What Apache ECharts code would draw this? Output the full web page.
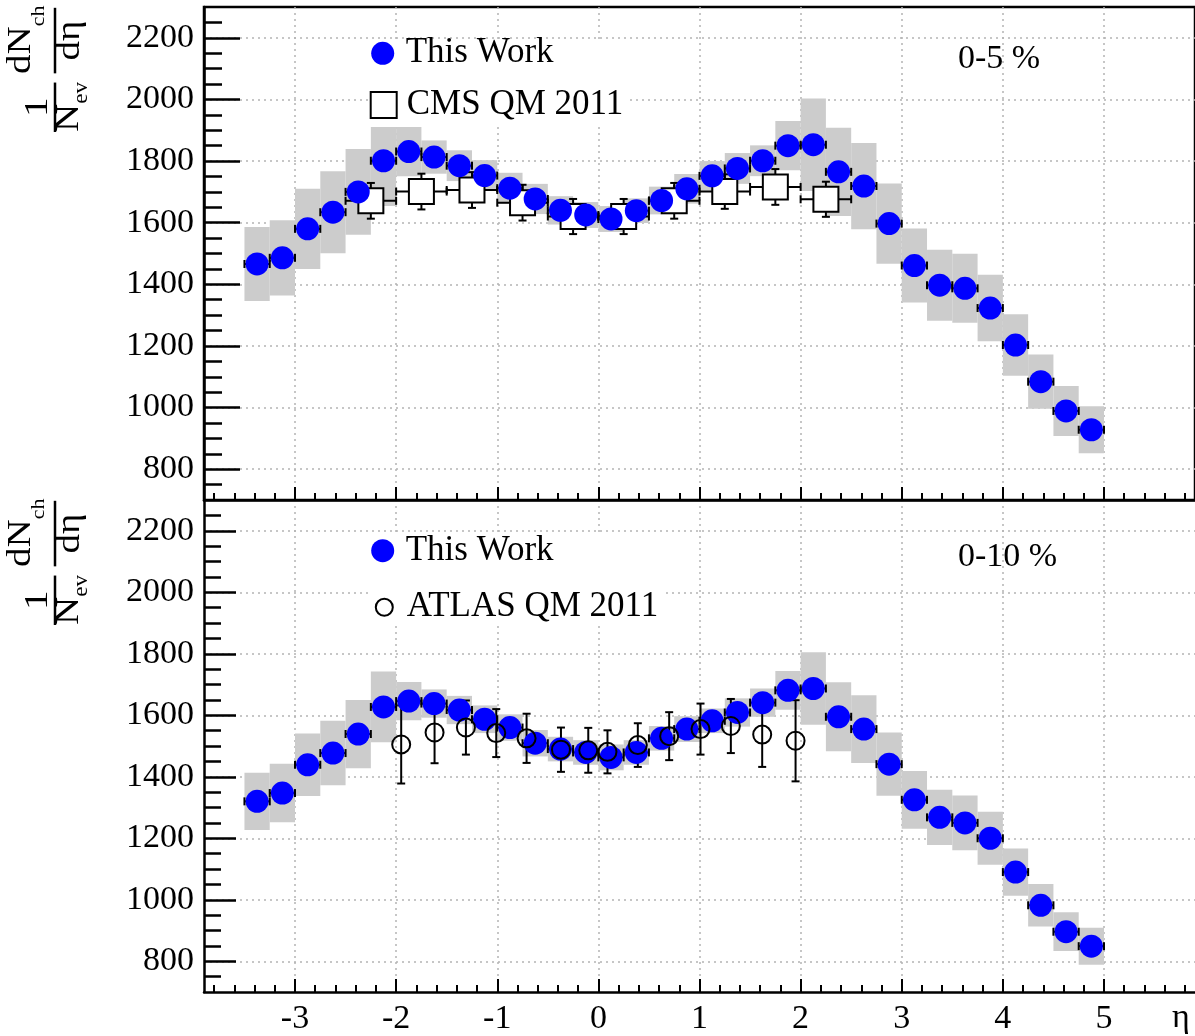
<!DOCTYPE html>
<html>
<head>
<meta charset="utf-8">
<script src="https://cdn.jsdelivr.net/npm/echarts@6/dist/echarts.min.js"></script>
<style>
html, body { margin: 0; padding: 0; background: #fff; }
#chart { width: 1195px; height: 1036px; }
</style>
</head>
<body>
<div id="chart"></div>
<script>
// eta bin centres (bin width 0.25)
const etaBins = [-3.375, -3.125, -2.875, -2.625, -2.375, -2.125, -1.875, -1.625, -1.375, -1.125,
    -0.875, -0.625, -0.375, -0.125, 0.125, 0.375, 0.625, 0.875, 1.125, 1.375,
    1.625, 1.875, 2.125, 2.375, 2.625, 2.875, 3.125, 3.375, 3.625, 3.875,
    4.125, 4.375, 4.625, 4.875];

// 0-5 %: this work, with systematic half-heights
const thisWork05 = [1466, 1486, 1580, 1634, 1700, 1801, 1831, 1813, 1785, 1753,
    1712, 1677, 1640, 1625, 1612, 1639, 1672, 1710, 1752, 1776,
    1801, 1850, 1853, 1765, 1719, 1597, 1461, 1397, 1387, 1323,
    1203, 1084, 989, 928];
const thisWork05Sys = [120, 122, 130, 133, 139, 147, 80, 54, 50, 50,
    50, 49, 46, 42, 42, 40, 45, 48, 48, 50,
    50, 80, 150, 143, 140, 130, 120, 115, 112, 108,
    100, 88, 81, 76];

// 0-5 %: CMS QM 2011
const cmsEta = [-2.25, -1.75, -1.25, -0.75, -0.25, 0.25, 0.75, 1.25, 1.75, 2.25];
const cms05 = [1671, 1701, 1706, 1665, 1620, 1620, 1671, 1701, 1716, 1676];
const cms05Err = [58, 58, 58, 58, 57, 57, 58, 56, 58, 57];

// 0-10 %: this work
const thisWork010 = [1320, 1347, 1439, 1477, 1539, 1627, 1646, 1638, 1617, 1587,
    1560, 1509, 1490, 1479, 1463, 1479, 1525, 1555, 1582, 1609,
    1641, 1681, 1687, 1595, 1555, 1441, 1325, 1268, 1250, 1200,
    1090, 982, 896, 849];
const thisWork010Sys = [93, 95, 102, 105, 111, 115, 62, 46, 46, 45,
    43, 43, 40, 40, 42, 40, 40, 42, 40, 46,
    46, 63, 118, 112, 110, 103, 94, 90, 89, 86,
    77, 69, 63, 60];

// 0-10 %: ATLAS QM 2011
const atlasEta = [-1.95, -1.62, -1.31, -1.01, -0.71, -0.37, -0.10, 0.09, 0.39, 0.70, 1.01, 1.31, 1.62, 1.95];
const atlas010 = [1505, 1544, 1560, 1542, 1525, 1488, 1486, 1481, 1503, 1532, 1555, 1565, 1537, 1517];
const atlas010Err = [127, 100, 88, 78, 80, 72, 73, 70, 71, 78, 83, 88, 105, 132];

// axis ticks
const etaTicks = [-3, -2, -1, 0, 1, 2, 3, 4, 5];
const yTicks = [800, 1000, 1200, 1400, 1600, 1800, 2000, 2200];

const binHalf = 0.125;
const cmsHalf = 0.25;

const etaMinor = [];
for (let k = -38; k <= 58; k += 2) if (k % 10 !== 0) etaMinor.push(k / 10);
const yMinor = [];
for (let v = 750; v < 2300; v += 50) if (v % 200 !== 0) yMinor.push(v);

const serif = "'Liberation Serif', 'Times New Roman', serif";
const black = '#000';

// gray box for the systematic uncertainty
function sysBox(params, api) {
    const x = api.value(0), y = api.value(1), e = api.value(2);
    const a = api.coord([x - binHalf, y + e]);
    const b = api.coord([x + binHalf, y - e]);
    return {
        type: 'rect',
        shape: { x: a[0], y: a[1], width: b[0] - a[0], height: b[1] - a[1] },
        style: { fill: '#cccccc' }
    };
}

// error bars: [x, y, xHalf, yErr]
function errorBars(params, api) {
    const x = api.value(0), y = api.value(1), hx = api.value(2), ey = api.value(3);
    const style = { stroke: black, lineWidth: 2 };
    const out = [];
    if (hx > 0) {
        const l = api.coord([x - hx, y]), r = api.coord([x + hx, y]);
        out.push({ type: 'line', shape: { x1: l[0], y1: l[1], x2: r[0], y2: r[1] }, style });
        out.push({ type: 'line', shape: { x1: l[0], y1: l[1] - 4, x2: l[0], y2: l[1] + 4 }, style });
        out.push({ type: 'line', shape: { x1: r[0], y1: r[1] - 4, x2: r[0], y2: r[1] + 4 }, style });
    }
    if (ey > 0) {
        const t = api.coord([x, y + ey]), b = api.coord([x, y - ey]);
        out.push({ type: 'line', shape: { x1: t[0], y1: t[1], x2: b[0], y2: b[1] }, style });
        out.push({ type: 'line', shape: { x1: t[0] - 4, y1: t[1], x2: t[0] + 4, y2: t[1] }, style });
        out.push({ type: 'line', shape: { x1: b[0] - 4, y1: b[1], x2: b[0] + 4, y2: b[1] }, style });
    }
    return { type: 'group', children: out };
}

function xAxes(gridIndex, withLabels) {
    return [{
        type: 'value', gridIndex, min: -3.9, max: 5.9, position: 'bottom',
        axisLine: { show: true, onZero: false, lineStyle: { color: black, width: 2.5 } },
        axisTick: { show: true, inside: true, length: 13, customValues: etaTicks, lineStyle: { color: black, width: 2 } },
        axisLabel: withLabels
            ? { show: true, customValues: etaTicks, margin: 10, color: black, fontSize: 34, fontFamily: serif }
            : { show: false },
        splitLine: { show: true, lineStyle: { color: '#b4b4b4', width: 1.5, type: [2, 4] } }
    }, {
        type: 'value', gridIndex, min: -3.9, max: 5.9, position: 'bottom',
        axisLine: { show: false, onZero: false },
        axisTick: { show: true, inside: true, length: 7, customValues: etaMinor, lineStyle: { color: black, width: 2 } },
        axisLabel: { show: false },
        splitLine: { show: false }
    }];
}

function yAxes(gridIndex, majorLen, minorLen) {
    return [{
        type: 'value', gridIndex, min: 700, max: 2300, position: 'left',
        axisLine: { show: true, onZero: false, lineStyle: { color: black, width: 2.5 } },
        axisTick: { show: true, inside: true, length: majorLen, customValues: yTicks, lineStyle: { color: black, width: 2.5 } },
        axisLabel: {
            show: true, customValues: yTicks, margin: 10, color: black, fontSize: 34, fontFamily: serif,
            formatter: v => String(v)
        },
        splitLine: { show: true, lineStyle: { color: '#b4b4b4', width: 1.5, type: [2, 4] } }
    }, {
        type: 'value', gridIndex, min: 700, max: 2300, position: 'left',
        axisLine: { show: false, onZero: false },
        axisTick: { show: true, inside: true, length: minorLen, customValues: yMinor, lineStyle: { color: black, width: 2.5 } },
        axisLabel: { show: false },
        splitLine: { show: false }
    }];
}

// rotated 1/N_ev dN_ch/deta title (reading direction stretched a little, as in the original)
function yTitle(top) {
    const t = (x, y, text, size, align) => ({
        type: 'text', x, y,
        style: { text, fill: black, font: size + 'px ' + serif, align: align || 'left', verticalAlign: 'middle' }
    });
    const bar = (x1, x2) => ({ type: 'line', shape: { x1, y1: 0, x2, y2: 0 }, style: { stroke: black, lineWidth: 2.5 } });
    return {
        type: 'group', x: 55, y: top + 125, rotation: Math.PI / 2, scaleX: 1.15, scaleY: 1,
        children: [
            bar(0, 43),
            t(21.5, -17, '1', 34, 'center'),
            t(0, 14, 'N', 34),
            t(24.5, 27, 'ev', 20),
            bar(51, 108),
            t(50.5, -33.5, 'dN', 34),
            t(92, -15.5, 'ch', 19),
            t(79.5, 15.5, 'd\u03b7', 34, 'center')
        ]
    };
}

function legendItem(name, left, top, size, pad, itemStyle) {
    return {
        data: [{ name, itemStyle }],
        left, top, padding: 0, itemGap: 0,
        itemWidth: size, itemHeight: size,
        selectedMode: false,
        textStyle: { color: black, fontSize: 35, fontFamily: serif, lineHeight: 36, padding: [0, 0, 0, pad] }
    };
}

const chart = echarts.init(document.getElementById('chart'), null, { renderer: 'canvas' });

chart.setOption({
    animation: false,
    backgroundColor: '#fff',
    grid: [
        { left: 204, top: 7, width: 992, height: 493, show: true, borderColor: black, borderWidth: 2.5, backgroundColor: 'transparent' },
        { left: 204, top: 500, width: 992, height: 494, show: false }
    ],
    xAxis: [...xAxes(0, false), ...xAxes(1, true)],
    yAxis: [...yAxes(0, 36, 18), ...yAxes(1, 32, 17)],
    legend: [
        legendItem('This Work', 371.2, 35.3, 23, 6.5, { color: '#0000ff' }),
        legendItem('CMS QM 2011', 369.7, 87, 26, 5, { color: '#fff', borderColor: black, borderWidth: 2 }),
        legendItem('This Work', 371.2, 532.7, 23, 6.5, { color: '#0000ff' }),
        legendItem('ATLAS QM 2011', 374.8, 589.3, 17, 9, { color: '#fff', borderColor: black, borderWidth: 2 })
    ],
    graphic: [
        { type: 'rect', z: 3, shape: { x: 368, y: 40, width: 262, height: 87 }, style: { fill: '#fff' } },
        { type: 'rect', z: 3, shape: { x: 368, y: 536, width: 297, height: 90 }, style: { fill: '#fff' } },
        { type: 'text', z: 5, x: 958, y: 59, style: { text: '0-5 %', fill: black, font: '34px ' + serif, verticalAlign: 'middle' } },
        { type: 'text', z: 5, x: 958, y: 557, style: { text: '0-10 %', fill: black, font: '34px ' + serif, verticalAlign: 'middle' } },
        { type: 'text', z: 5, x: 1181, y: 1018, style: { text: '\u03b7', fill: black, font: '34px ' + serif, align: 'center', verticalAlign: 'middle' } },
        yTitle(7),
        yTitle(500)
    ],
    series: [
        {
            type: 'custom', name: 'sys05', xAxisIndex: 0, yAxisIndex: 0, silent: true,
            data: etaBins.map((x, i) => [x, thisWork05[i], thisWork05Sys[i]]),
            renderItem: sysBox
        },
        {
            type: 'custom', name: 'stat05', xAxisIndex: 0, yAxisIndex: 0, silent: true,
            data: etaBins.map((x, i) => [x, thisWork05[i], binHalf, 0]),
            renderItem: errorBars
        },
        {
            type: 'custom', name: 'cmsErr', xAxisIndex: 0, yAxisIndex: 0, silent: true,
            data: cmsEta.map((x, i) => [x, cms05[i], cmsHalf, cms05Err[i]]),
            renderItem: errorBars
        },
        {
            type: 'scatter', name: 'CMS QM 2011', xAxisIndex: 0, yAxisIndex: 0, silent: true,
            symbol: 'rect', symbolSize: 25,
            itemStyle: { color: '#fff', borderColor: black, borderWidth: 2, opacity: 1 },
            data: cmsEta.map((x, i) => [x, cms05[i]])
        },
        {
            type: 'scatter', name: 'This Work', xAxisIndex: 0, yAxisIndex: 0, silent: true,
            symbol: 'circle', symbolSize: 23,
            itemStyle: { color: '#0000ff', opacity: 1 },
            data: etaBins.map((x, i) => [x, thisWork05[i]])
        },
        {
            type: 'custom', name: 'sys010', xAxisIndex: 2, yAxisIndex: 2, silent: true,
            data: etaBins.map((x, i) => [x, thisWork010[i], thisWork010Sys[i]]),
            renderItem: sysBox
        },
        {
            type: 'custom', name: 'stat010', xAxisIndex: 2, yAxisIndex: 2, silent: true,
            data: etaBins.map((x, i) => [x, thisWork010[i], binHalf, 0]),
            renderItem: errorBars
        },
        {
            type: 'scatter', name: 'This Work', xAxisIndex: 2, yAxisIndex: 2, silent: true,
            symbol: 'circle', symbolSize: 23,
            itemStyle: { color: '#0000ff', opacity: 1 },
            data: etaBins.map((x, i) => [x, thisWork010[i]])
        },
        {
            type: 'custom', name: 'atlasErr', xAxisIndex: 2, yAxisIndex: 2, silent: true,
            data: atlasEta.map((x, i) => [x, atlas010[i], 0, atlas010Err[i]]),
            renderItem: errorBars
        },
        {
            type: 'scatter', name: 'ATLAS QM 2011', xAxisIndex: 2, yAxisIndex: 2, silent: true,
            symbol: 'circle', symbolSize: 18,
            itemStyle: { color: 'rgba(255,255,255,0)', borderColor: black, borderWidth: 2, opacity: 1 },
            data: atlasEta.map((x, i) => [x, atlas010[i]])
        }
    ]
});
</script>
</body>
</html>
